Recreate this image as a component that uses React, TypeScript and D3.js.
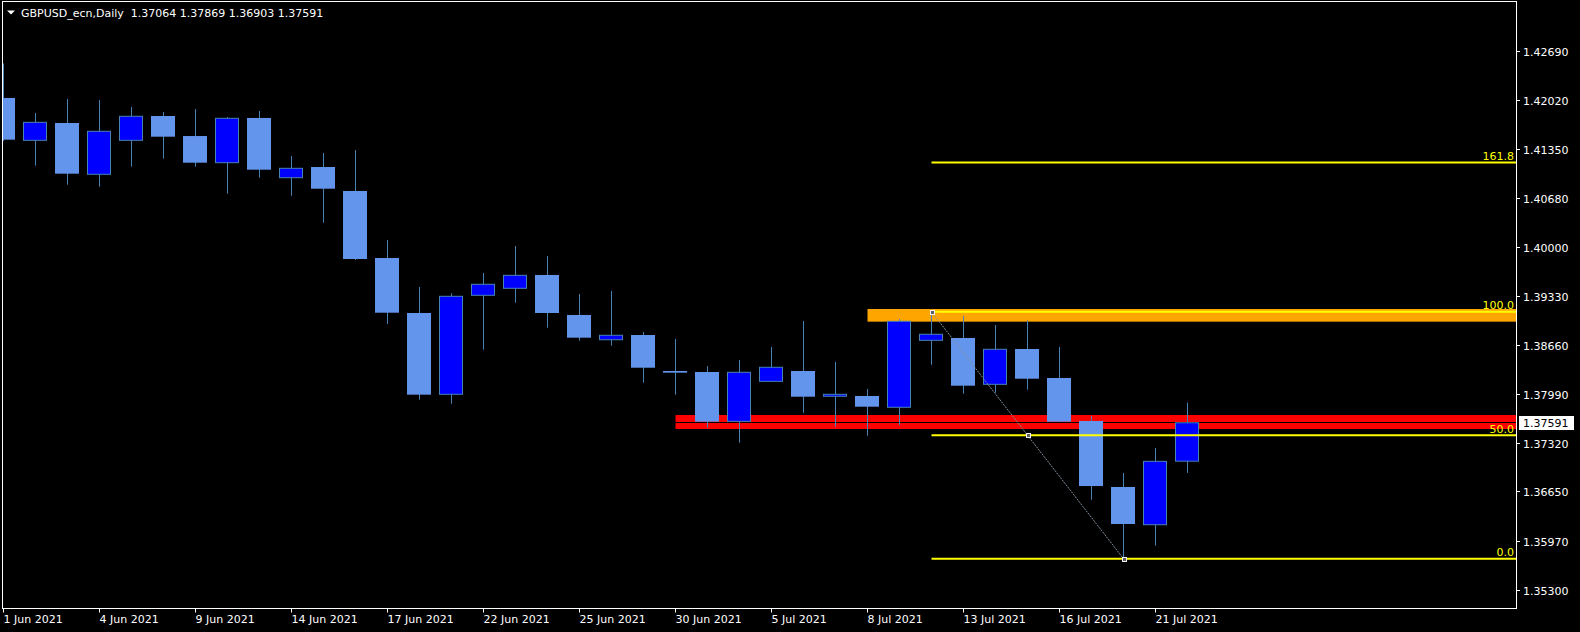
import React from "react";
import * as d3 from "d3";

const dates = [
  "1 Jun 2021","2 Jun 2021","3 Jun 2021","4 Jun 2021","7 Jun 2021","8 Jun 2021","9 Jun 2021","10 Jun 2021",
  "11 Jun 2021","14 Jun 2021","15 Jun 2021","16 Jun 2021","17 Jun 2021","18 Jun 2021","21 Jun 2021","22 Jun 2021",
  "23 Jun 2021","24 Jun 2021","25 Jun 2021","28 Jun 2021","29 Jun 2021","30 Jun 2021","1 Jul 2021","2 Jul 2021",
  "5 Jul 2021","6 Jul 2021","7 Jul 2021","8 Jul 2021","9 Jul 2021","12 Jul 2021","13 Jul 2021","14 Jul 2021",
  "15 Jul 2021","16 Jul 2021","19 Jul 2021","20 Jul 2021","21 Jul 2021","22 Jul 2021",
];
const opens = [
  1.42049,1.41468,1.41706,1.41002,1.41468,1.41802,1.41527,1.41161,1.41775,1.40955,1.41102,1.40773,1.39853,
  1.39098,1.37982,1.39341,1.39437,1.39620,1.39071,1.38731,1.38796,1.38302,1.38288,1.37611,1.38160,1.38302,
  1.37955,1.37959,1.37804,1.38723,1.38755,1.38119,1.38604,1.38206,1.37616,1.36710,1.36192,1.37064,
];
const highs = [
  1.42523,1.41843,1.42035,1.42022,1.41925,1.41857,1.41898,1.41788,1.41871,1.41253,1.41294,1.41335,1.40100,
  1.39455,1.39368,1.39647,1.40018,1.39880,1.39359,1.39400,1.38837,1.38741,1.38370,1.38453,1.38631,1.38988,
  1.38425,1.38055,1.39016,1.39116,1.39057,1.38933,1.38998,1.38631,1.37684,1.36902,1.37245,1.37869,
];
const lows = [
  1.41459,1.41120,1.40859,1.40832,1.41106,1.41216,1.41106,1.40735,1.40955,1.40708,1.40337,1.39825,1.38947,
  1.37908,1.37853,1.38594,1.39239,1.38896,1.38718,1.38649,1.38141,1.37977,1.37524,1.37318,1.38155,1.37729,
  1.37537,1.37414,1.37557,1.38388,1.37990,1.38004,1.38045,1.37602,1.36535,1.35725,1.35904,1.36903,
];
const closes = [
  1.41477,1.41715,1.41010,1.41592,1.41798,1.41518,1.41161,1.41770,1.41065,1.41084,1.40804,1.39839,1.39102,
  1.37977,1.39327,1.39492,1.39615,1.39098,1.38759,1.38792,1.38347,1.38279,1.37606,1.38284,1.38353,1.37949,
  1.37982,1.37812,1.38984,1.38806,1.38100,1.38600,1.38196,1.37606,1.36723,1.36202,1.37062,1.37591,
];
const priceTicks = [1.4269, 1.4202, 1.4135, 1.4068, 1.4, 1.3933, 1.3866, 1.3799, 1.3732, 1.3665, 1.3597, 1.353];
const dateTickIndex = [0, 3, 6, 9, 12, 15, 18, 21, 24, 27, 30, 33, 36];
const fibLabels = ["0.0", "50.0", "100.0", "161.8"];
const fibPrices = [1.35725, 1.3742, 1.39116, 1.41164];
const fibStartIdx = 29;
const fibEndIdx = 35;
const redZone = [1.37698, 1.37506];
const redStartIdx = 21;
const orangeZone = [1.39153, 1.38979];
const orangeStartIdx = 27;
const symbol = "GBPUSD_ecn,Daily";

const W = 1580, H = 632;
const L = 2.5, R = 1516.5, T = 1.5, B = 608.5;
const FONT = "'DejaVu Sans', Verdana, sans-serif";

export default function App() {
  const x = d3.scaleLinear().domain([0, 37]).range([3.5, 3.5 + 32 * 37]);
  const y = d3.scaleLinear().domain([1.353, 1.4269]).range([589.7, 51.3]);
  const bull = "#0000FF", bear = "#6495ED", wick = "#4682B4";
  const last = closes[closes.length - 1];
  const fibHigh = fibPrices[2], fibLow = fibPrices[0];
  const fmt = (v: number) => v.toFixed(5);
  return (
    <svg width={W} height={H} style={{ position: "fixed", left: 0, top: 0, background: "#000" }}>
      <rect x={0} y={0} width={W} height={H} fill="#000" />
      <defs>
        <clipPath id="plot">
          <rect x={3} y={2} width={R - 3.5} height={B - 2.5} />
        </clipPath>
      </defs>
      <g clipPath="url(#plot)">
        <rect x={x(redStartIdx)} y={y(redZone[0])} width={R - x(redStartIdx) + 5} height={y(redZone[1]) - y(redZone[0])} fill="#FF0000" />
        <rect x={x(orangeStartIdx)} y={y(orangeZone[0])} width={R - x(orangeStartIdx) + 5} height={y(orangeZone[1]) - y(orangeZone[0])} fill="#FFA500" />
        <line x1={L} x2={R} y1={Math.round(y(last)) - 0.5} y2={Math.round(y(last)) - 0.5} stroke="#000" strokeWidth={1} />
        {dates.map((d, i) => {
          const cx = x(i);
          const o = opens[i], c = closes[i];
          const up = c >= o;
          const top = y(Math.max(o, c));
          const bot = y(Math.min(o, c));
          return (
            <g key={d}>
              <line x1={cx} x2={cx} y1={y(highs[i])} y2={y(lows[i])} stroke={wick} strokeWidth={1} />
              {up ? (
                <rect x={cx - 12} y={top} width={23} height={Math.max(1, bot - top)} fill={bull} stroke={wick} strokeWidth={1} />
              ) : (
                <rect x={cx - 12.5} y={top} width={24} height={Math.max(1.5, bot - top)} fill={bear} />
              )}
            </g>
          );
        })}
        {fibPrices.map((p, k) => {
          const yy = y(p);
          return (
            <line key={k} x1={x(fibStartIdx)} x2={R + 5} y1={yy} y2={yy} stroke="#FFFF00" strokeWidth={2} />
          );
        })}
        <line x1={x(fibStartIdx)} y1={y(fibHigh)} x2={x(fibEndIdx)} y2={y(fibLow)} stroke="#8090a0" strokeWidth={1} strokeDasharray="2,1" />
        {[[x(fibStartIdx), y(fibHigh)], [(x(fibStartIdx) + x(fibEndIdx)) / 2, (y(fibHigh) + y(fibLow)) / 2], [x(fibEndIdx), y(fibLow)]].map(([px, py], k) => (
          <rect key={k} x={Math.round(px) - 1.5} y={Math.round(py) - 1.5} width={4} height={4} fill="#606060" stroke="#f0f0f0" strokeWidth={1} />
        ))}
        {fibPrices.map((p, k) => (
          <text key={"t" + k} x={R - 2.5} y={y(p) - 2.5} fill="#FFFF00" fontFamily={FONT} fontSize={11} textAnchor="end">
            {fibLabels[k]}
          </text>
        ))}
      </g>
      <rect x={L} y={T} width={R - L} height={B - T} fill="none" stroke="#FFFFFF" strokeWidth={1} />
      {priceTicks.map((p) => {
        const yy = Math.round(y(p)) + 0.5;
        return (
          <g key={p}>
            <line x1={R} x2={R + 3.5} y1={yy} y2={yy} stroke="#FFFFFF" />
            <text x={1523} y={yy + 4} fill="#FFFFFF" fontFamily={FONT} fontSize={11}>{fmt(p)}</text>
          </g>
        );
      })}
      <rect x={1519} y={Math.round(y(last)) - 7} width={55} height={14} fill="#FFFFFF" />
      <text x={1523} y={Math.round(y(last)) + 4} fill="#000" fontFamily={FONT} fontSize={11}>{fmt(last)}</text>
      {dateTickIndex.map((i) => {
        const xx = Math.floor(x(i)) + 0.5;
        return (
          <g key={i}>
            <line x1={xx} x2={xx} y1={B} y2={B + 4} stroke="#FFFFFF" />
            <text x={xx} y={623} fill="#FFFFFF" fontFamily={FONT} fontSize={11}>{dates[i]}</text>
          </g>
        );
      })}
      <path d="M7,10.5 L15,10.5 L11,14.5 Z" fill="#FFFFFF" />
      <text x={21} y={17} fill="#FFFFFF" fontFamily={FONT} fontSize={11} style={{ whiteSpace: "pre" }}>
        {`${symbol}  ${fmt(opens[37])} ${fmt(highs[37])} ${fmt(lows[37])} ${fmt(closes[37])}`}
      </text>
    </svg>
  );
}
